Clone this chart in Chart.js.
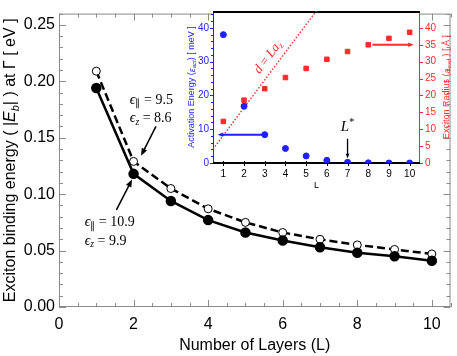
<!DOCTYPE html>
<html>
<head>
<meta charset="utf-8">
<script src="https://cdn.jsdelivr.net/npm/chart.js@4/dist/chart.umd.min.js"></script>
<style>
  body { margin: 0; background: #fff; }
  #wrap { position: relative; width: 457px; height: 356px; }
  #main { position: absolute; left: 0; top: 0; }
  #inset { position: absolute; left: 160px; top: 0; }
</style>
</head>
<body>
<div id="wrap">
  <canvas id="main" width="457" height="356"></canvas>
  <canvas id="inset" width="297" height="196"></canvas>
</div>
<script>
// --- Data (main plot) ---
const layers = [1, 2, 3, 4, 5, 6, 7, 8, 9, 10];
const ebBulkEps = [0.194, 0.118, 0.094, 0.077, 0.066, 0.059, 0.053, 0.048, 0.045, 0.041]; // eps|| = 10.9
const ebThinEps = [0.209, 0.129, 0.105, 0.087, 0.075, 0.066, 0.060, 0.055, 0.051, 0.047]; // eps|| = 9.5
const mainXTicks = [0, 2, 4, 6, 8, 10];
const mainYTicks = [0, 0.05, 0.10, 0.15, 0.20, 0.25];

// --- Data (inset) ---
const actEnergy = [38.0, 16.8, 8.4, 4.3, 2.1, 0.8, 0.2, 0.05, 0, 0];          // meV
const excRadius = [12.3, 18.6, 22.0, 25.3, 28.0, 30.7, 33.0, 35.0, 36.9, 38.7]; // Angstrom
const insetXTicks = [1, 2, 3, 4, 5, 6, 7, 8, 9, 10];
const actTicks = [0, 10, 20, 30, 40];
const radTicks = [0, 5, 10, 15, 20, 25, 30, 35, 40];
const azLineL = [0.5, 5.5];  // ends of the d = L a_z guide
const aZ = 8.2;              // interlayer distance, Angstrom

const SANS = '"Liberation Sans", Arial, sans-serif';
const SERIF = '"Liberation Serif", "Times New Roman", serif';
const EPS = '\u03F5';

// --- text / arrow helpers ---
function partFont(k, size, family) {
  const small = k === 'sub' || k === 'isub' || k === 'sup';
  return (k[0] === 'i' ? 'italic ' : '') + (small ? size * 0.68 : size) + 'px ' + family;
}
function richWidth(ctx, parts, size, family) {
  let w = 0;
  parts.forEach(([t, k]) => { ctx.font = partFont(k, size, family); w += ctx.measureText(t).width; });
  return w;
}
function drawRich(ctx, x, y, parts, size, family, color, align) {
  ctx.save();
  ctx.fillStyle = color;
  ctx.textBaseline = 'middle';
  ctx.textAlign = 'left';
  let cx = align === 'center' ? x - richWidth(ctx, parts, size, family) / 2 : x;
  parts.forEach(([t, k]) => {
    ctx.font = partFont(k, size, family);
    const dy = (k === 'sub' || k === 'isub') ? size * 0.28 : k === 'sup' ? -size * 0.35 : 0;
    ctx.fillText(t, cx, y + dy);
    cx += ctx.measureText(t).width;
  });
  ctx.restore();
}
function drawRotated(ctx, x, y, angle, parts, size, family, color) {
  ctx.save();
  ctx.translate(x, y);
  ctx.rotate(angle);
  drawRich(ctx, 0, 0, parts, size, family, color, 'center');
  ctx.restore();
}
function arrow(ctx, x1, y1, x2, y2, color, width, head) {
  const a = Math.atan2(y2 - y1, x2 - x1);
  ctx.save();
  ctx.strokeStyle = color;
  ctx.fillStyle = color;
  ctx.lineWidth = width;
  ctx.beginPath();
  ctx.moveTo(x1, y1);
  ctx.lineTo(x2 - head * 0.8 * Math.cos(a), y2 - head * 0.8 * Math.sin(a));
  ctx.stroke();
  ctx.beginPath();
  ctx.moveTo(x2, y2);
  ctx.lineTo(x2 - head * Math.cos(a - 0.38), y2 - head * Math.sin(a - 0.38));
  ctx.lineTo(x2 - head * Math.cos(a + 0.38), y2 - head * Math.sin(a + 0.38));
  ctx.closePath();
  ctx.fill();
  ctx.restore();
}
const fixTicks = list => s => { s.ticks = list.map(v => ({ value: v })); };

// --- Main plot decorations: frame, inward ticks, labels ---
const mainDecor = {
  id: 'mainDecor',
  beforeDatasetsDraw(chart) {
    const { ctx, chartArea: a, scales: { x, y } } = chart;
    ctx.save();
    ctx.strokeStyle = '#8a8a8a';
    ctx.lineWidth = 1;
    ctx.strokeRect(a.left + 0.5, a.top + 0.5, a.right - a.left - 1, a.bottom - a.top - 1);
    ctx.beginPath();
    for (let i = 0; i <= 21; i++) {
      const px = Math.round(x.getPixelForValue(i * 0.5)) + 0.5;
      const len = i % 4 === 0 ? 7 : 4;
      ctx.moveTo(px, a.bottom); ctx.lineTo(px, a.bottom - len);
      ctx.moveTo(px, a.top); ctx.lineTo(px, a.top + len);
    }
    for (let i = 0; i <= 26; i++) {
      const py = Math.round(y.getPixelForValue(i * 0.01)) + 0.5;
      const len = i % 5 === 0 ? 7 : 4;
      ctx.moveTo(a.left, py); ctx.lineTo(a.left + len, py);
      ctx.moveTo(a.right, py); ctx.lineTo(a.right - len, py);
    }
    ctx.stroke();
    ctx.restore();
  },
  afterDraw(chart) {
    const { ctx, chartArea: a, scales: { x, y } } = chart;
    // y axis title with subscript
    drawRotated(ctx, 11, (a.top + a.bottom) / 2, -Math.PI / 2,
      [['Exciton binding energy ( |', ''], ['E', 'i'], ['b', 'isub'], ['| ) at \u0393 [ eV ]', '']],
      16, SANS, '#000');
    // dielectric constant labels
    const lab = (L, v, sub, val) => drawRich(ctx, x.getPixelForValue(L), y.getPixelForValue(v),
      [[EPS, 'i'], [sub, sub === 'z' ? 'isub' : 'sub'], [' = ' + val, '']], 14, SERIF, '#000');
    lab(1.9, 0.1835, '\u2225', '9.5');
    lab(1.9, 0.167, 'z', '8.6');
    lab(0.69, 0.0748, '\u2225', '10.9');
    lab(0.69, 0.0585, 'z', '9.9');
    arrow(ctx, x.getPixelForValue(2.6), y.getPixelForValue(0.160),
      x.getPixelForValue(2.2), y.getPixelForValue(0.134), '#000', 1.5, 8);
    arrow(ctx, x.getPixelForValue(1.54), y.getPixelForValue(0.086),
      x.getPixelForValue(1.96), y.getPixelForValue(0.113), '#000', 1.5, 8);
  }
};

new Chart(document.getElementById('main'), {
  type: 'line',
  data: {
    datasets: [
      {
        data: layers.map((l, i) => ({ x: l, y: ebBulkEps[i] })),
        borderColor: '#000', borderWidth: 2.5, tension: 0,
        pointRadius: 4, pointBackgroundColor: '#000', pointBorderColor: '#000'
      },
      {
        data: layers.map((l, i) => ({ x: l, y: ebThinEps[i] })),
        borderColor: '#000', borderWidth: 2.5, borderDash: [8, 4], tension: 0,
        pointRadius: 4, pointBackgroundColor: '#fff', pointBorderColor: '#000', pointBorderWidth: 1
      }
    ]
  },
  options: {
    responsive: false,
    animation: false,
    layout: { padding: { top: 1, right: 2, left: 0, bottom: 0 } },
    plugins: { legend: { display: false }, tooltip: { enabled: false } },
    scales: {
      x: {
        type: 'linear', min: 0, max: 10.5,
        afterBuildTicks: fixTicks(mainXTicks),
        afterFit: s => { s.height = 49; },
        grid: { display: false, drawTicks: false },
        border: { display: false },
        ticks: { color: '#000', font: { family: SANS, size: 16 }, padding: 8, maxRotation: 0 },
        title: { display: true, text: 'Number of Layers (L)', color: '#000',
                 font: { family: SANS, size: 16 }, padding: { top: 0, bottom: 1 } }
      },
      y: {
        type: 'linear', min: 0, max: 0.26,
        afterBuildTicks: fixTicks(mainYTicks),
        afterFit: s => { s.width = 59; },
        grid: { display: false, drawTicks: false },
        border: { display: false },
        ticks: { color: '#000', font: { family: SANS, size: 16 }, padding: 4,
                 callback: v => v.toFixed(2) }
      }
    }
  },
  plugins: [mainDecor]
});

// --- Inset decorations ---
const BLUE = '#1f1fff';
const RED = '#ff2a2a';
const insetDecor = {
  id: 'insetDecor',
  beforeDatasetsDraw(chart) {
    const { ctx, chartArea: a, scales: { x, y, y2 } } = chart;
    ctx.save();
    ctx.fillStyle = '#fff';
    ctx.fillRect(a.left, a.top, a.right - a.left, a.bottom - a.top);
    // left (blue) axis + ticks
    ctx.strokeStyle = BLUE; ctx.lineWidth = 1;
    ctx.beginPath();
    ctx.moveTo(a.left + 0.5, a.top); ctx.lineTo(a.left + 0.5, a.bottom);
    for (let v = 0; v <= 44; v += 2) {
      const py = Math.round(y.getPixelForValue(v)) + 0.5;
      const len = v % 10 === 0 ? 3 : 2;
      ctx.moveTo(a.left - len, py); ctx.lineTo(a.left, py);
    }
    ctx.stroke();
    // right (red) axis + ticks
    ctx.strokeStyle = RED;
    ctx.beginPath();
    ctx.moveTo(a.right - 0.5, a.top); ctx.lineTo(a.right - 0.5, a.bottom);
    radTicks.forEach(v => {
      const py = Math.round(y2.getPixelForValue(v)) + 0.5;
      ctx.moveTo(a.right, py); ctx.lineTo(a.right + 3, py);
    });
    ctx.stroke();
    // top and bottom frame (black)
    ctx.strokeStyle = '#000'; ctx.lineWidth = 2;
    ctx.beginPath();
    ctx.moveTo(a.left, a.top + 1); ctx.lineTo(a.right, a.top + 1);
    ctx.moveTo(a.left, a.bottom); ctx.lineTo(a.right, a.bottom);
    ctx.stroke();
    ctx.lineWidth = 1;
    ctx.beginPath();
    insetXTicks.forEach(v => {
      const px = Math.round(x.getPixelForValue(v)) + 0.5;
      ctx.moveTo(px, a.bottom - 2); ctx.lineTo(px, a.bottom + 3);
    });
    ctx.stroke();
    ctx.restore();
  },
  afterDraw(chart) {
    const { ctx, chartArea: a, scales: { x, y, y2 } } = chart;
    // axis titles
    drawRotated(ctx, 32, (a.top + a.bottom) / 2, -Math.PI / 2,
      [['Activation Energy (', ''], ['\u03B5', 'i'], ['act', 'isub'], [') [ meV ]', '']],
      9, SANS, BLUE);
    drawRotated(ctx, 287, (a.top + a.bottom) / 2, -Math.PI / 2,
      [['Exciton Radius (', ''], ['a', 'i'], ['exc', 'isub'], [' ) [ \u00C5 ]', '']],
      9, SANS, RED);
    // arrows pointing to the axes
    arrow(ctx, x.getPixelForValue(3), y.getPixelForValue(actEnergy[2]),
      x.getPixelForValue(0.72), y.getPixelForValue(actEnergy[2]), BLUE, 2, 6);
    arrow(ctx, x.getPixelForValue(8.2), y2.getPixelForValue(excRadius[7]),
      x.getPixelForValue(10.2), y2.getPixelForValue(excRadius[7]), RED, 2, 6);
    // L* marker
    drawRich(ctx, x.getPixelForValue(7), y.getPixelForValue(10.6),
      [['L', 'i'], ['*', 'sup']], 15, SERIF, '#000', 'center');
    arrow(ctx, x.getPixelForValue(7), y.getPixelForValue(7.2),
      x.getPixelForValue(7), y.getPixelForValue(1.4), '#000', 1.3, 5);
    // label on d = L a_z guide
    const ang = Math.atan2(y2.getPixelForValue(aZ * 2) - y2.getPixelForValue(aZ),
      x.getPixelForValue(2) - x.getPixelForValue(1));
    drawRotated(ctx, x.getPixelForValue(3.16), y2.getPixelForValue(31.3), ang,
      [['d', 'i'], [' = ', ''], ['La', 'i'], ['z', 'isub']], 13, SERIF, RED);
  }
};

new Chart(document.getElementById('inset'), {
  type: 'scatter',
  data: {
    datasets: [
      {
        data: layers.map((l, i) => ({ x: l, y: actEnergy[i] })),
        yAxisID: 'y', pointRadius: 3, pointBackgroundColor: BLUE, pointBorderColor: BLUE,
        showLine: false
      },
      {
        data: layers.map((l, i) => ({ x: l, y: excRadius[i] })),
        yAxisID: 'y2', pointStyle: 'rect', pointRadius: 3.2,
        pointBackgroundColor: RED, pointBorderColor: RED, showLine: false
      },
      {
        data: azLineL.map(l => ({ x: l, y: aZ * l })),
        yAxisID: 'y2', showLine: true, pointRadius: 0,
        borderColor: RED, borderWidth: 1.4, borderDash: [1.5, 1.8]
      }
    ]
  },
  options: {
    responsive: false,
    animation: false,
    layout: { padding: { top: 7, right: 0, left: 0, bottom: 0 } },
    plugins: { legend: { display: false }, tooltip: { enabled: false } },
    scales: {
      x: {
        type: 'linear', min: 0.5, max: 10.5,
        afterBuildTicks: fixTicks(insetXTicks),
        afterFit: s => { s.height = 33; },
        grid: { display: false, drawTicks: false },
        border: { display: false },
        ticks: { color: '#000', font: { family: SANS, size: 10 }, padding: 5, maxRotation: 0 },
        title: { display: true, text: 'L', color: '#000', font: { family: SANS, size: 9 },
                 padding: { top: 0, bottom: 5 } }
      },
      y: {
        type: 'linear', position: 'left', min: 0, max: 45,
        afterBuildTicks: fixTicks(actTicks),
        afterFit: s => { s.width = 53; },
        grid: { display: false, drawTicks: false },
        border: { display: false },
        ticks: { color: BLUE, font: { family: SANS, size: 10 }, padding: 4 }
      },
      y2: {
        type: 'linear', position: 'right', min: 0, max: 45,
        afterBuildTicks: fixTicks(radTicks),
        afterFit: s => { s.width = 37; },
        grid: { display: false, drawTicks: false },
        border: { display: false },
        ticks: { color: RED, font: { family: SANS, size: 10 }, padding: 5 }
      }
    }
  },
  plugins: [insetDecor]
});
</script>
</body>
</html>
